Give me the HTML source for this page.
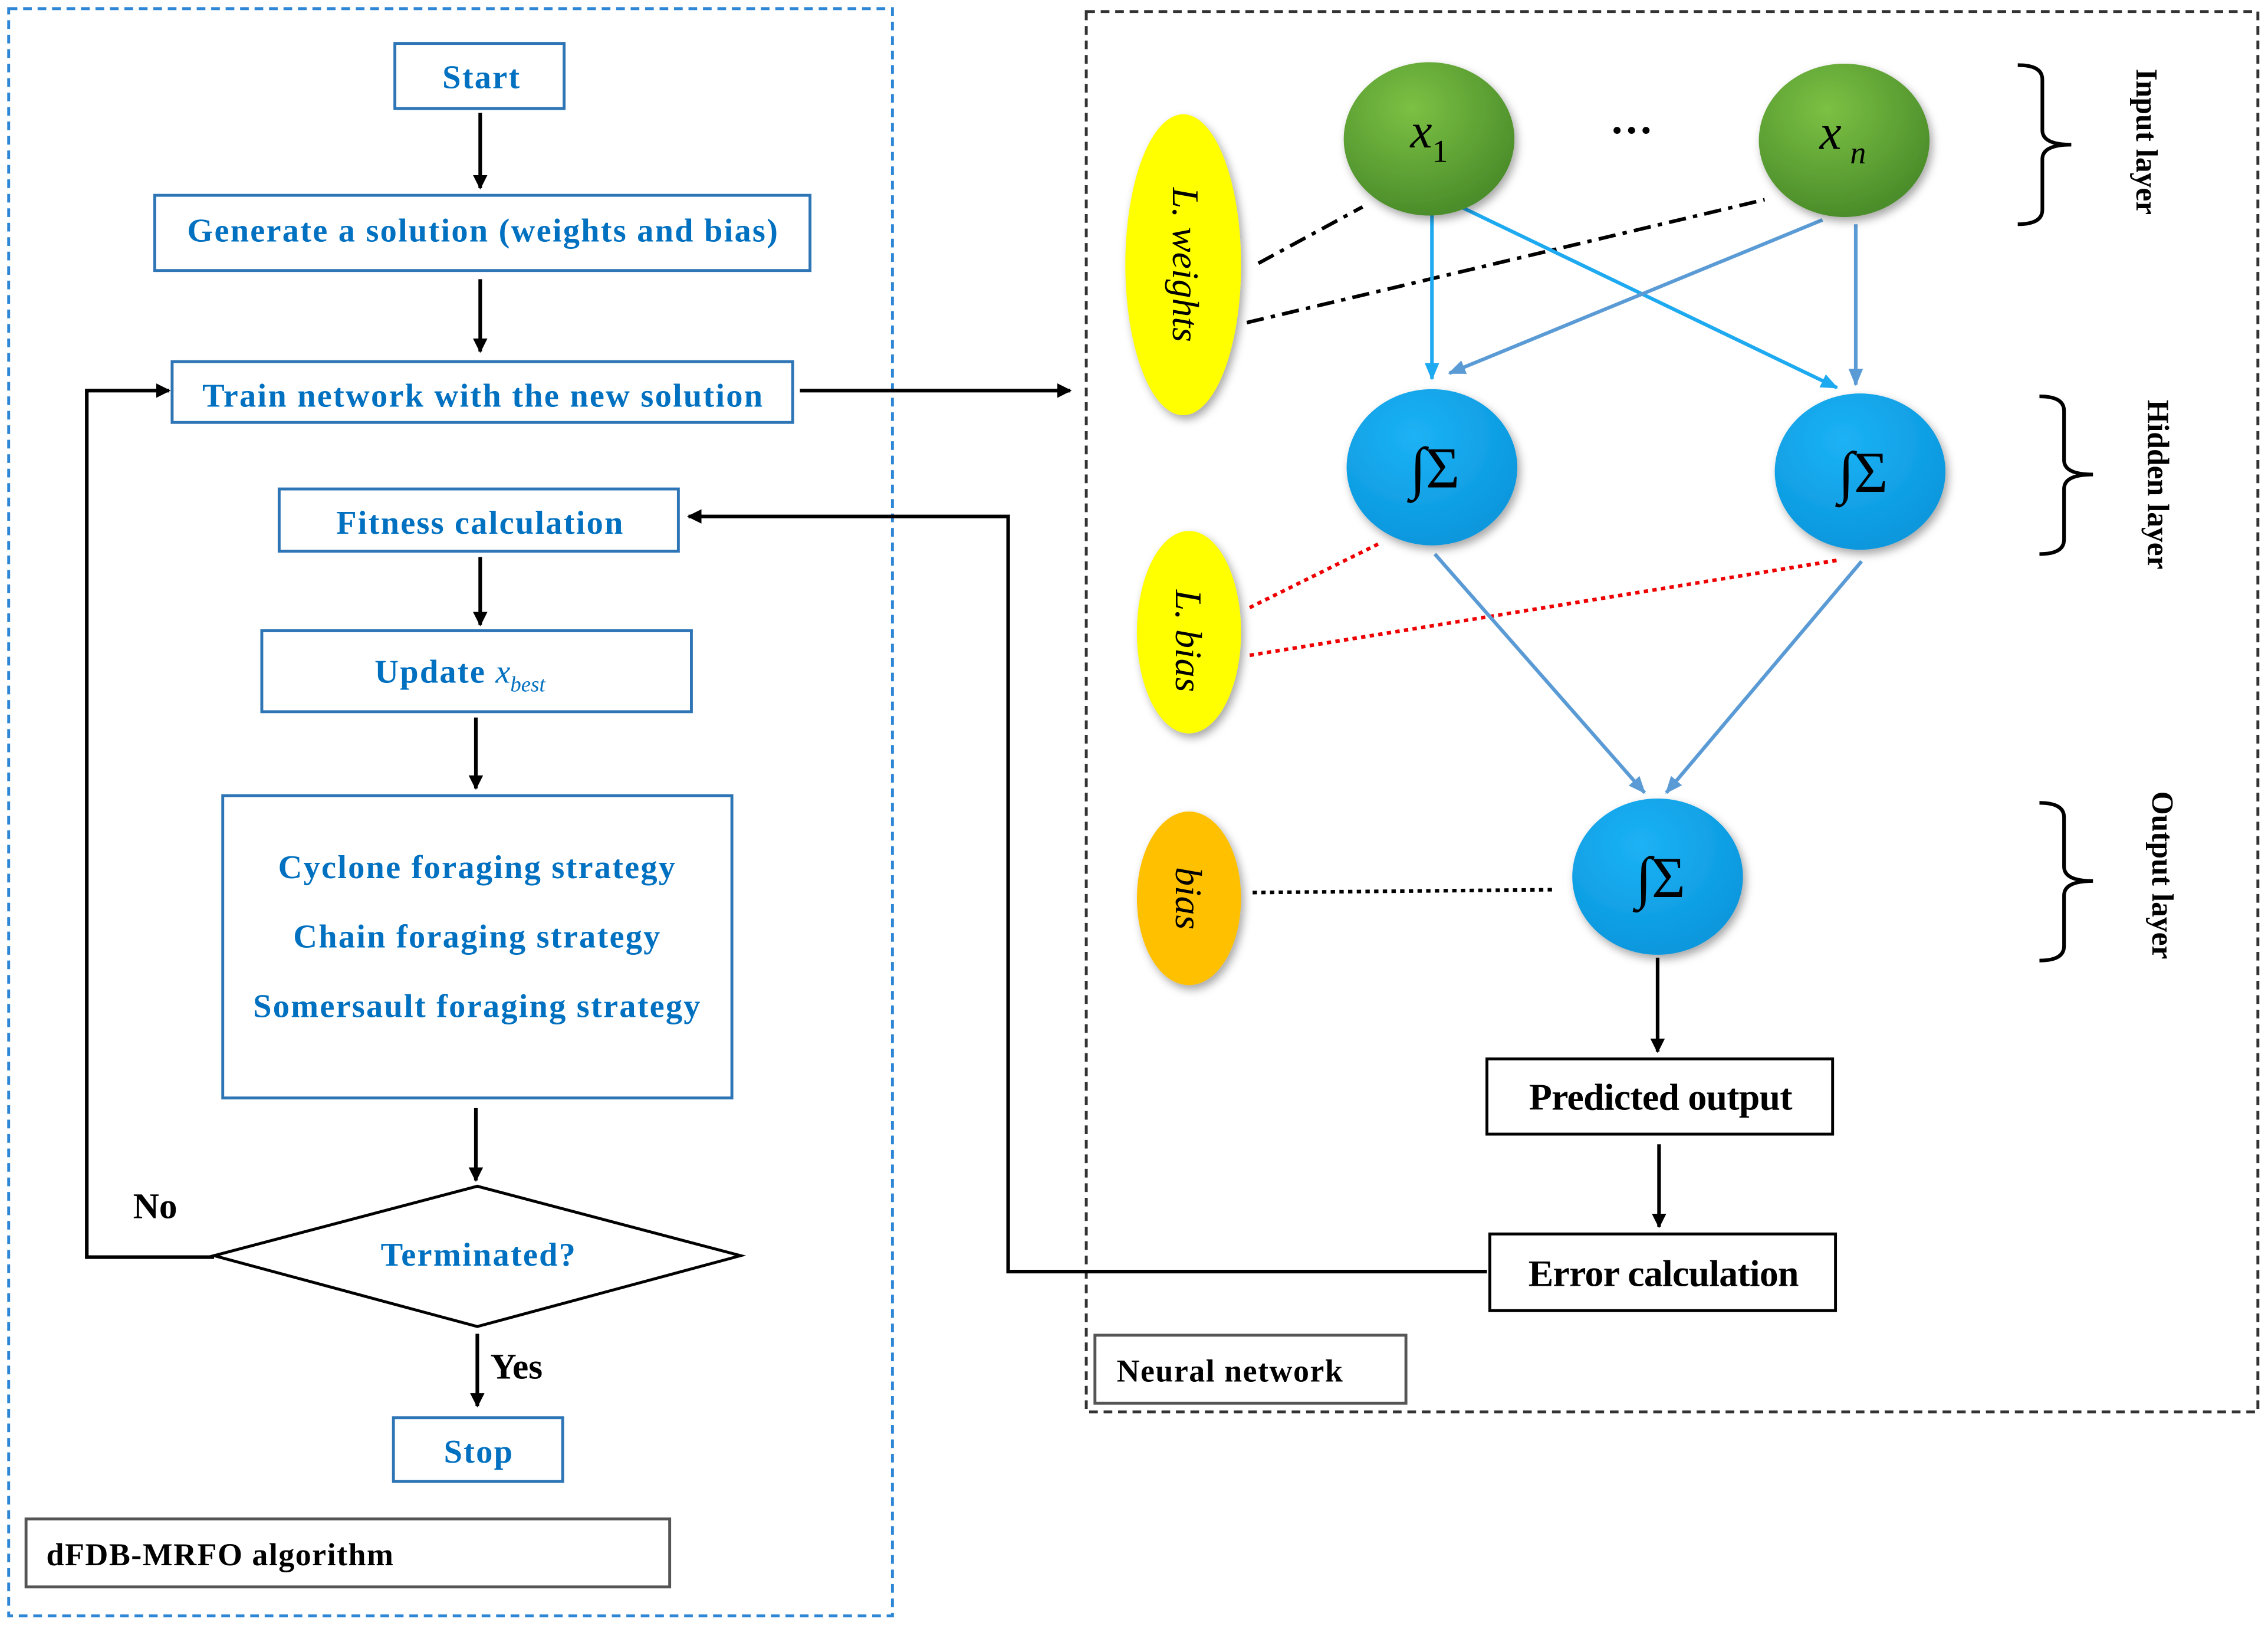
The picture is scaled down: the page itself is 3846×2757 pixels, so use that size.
<!DOCTYPE html>
<html><head><style>html,body{margin:0;padding:0;background:#fff}svg{display:block}</style></head>
<body>
<svg width="3846" height="2757" viewBox="0 0 1568 1124" xmlns="http://www.w3.org/2000/svg" font-family="Liberation Serif, serif">
<defs>
<marker id="ab" markerWidth="10" markerHeight="10" refX="9" refY="5" orient="auto" markerUnits="userSpaceOnUse"><path d="M0,0 L10,5 L0,10 z" fill="#000"/></marker>
<marker id="ac" markerWidth="12" markerHeight="10" refX="11" refY="5" orient="auto" markerUnits="userSpaceOnUse"><path d="M0,0 L12,5 L0,10 z" fill="#1eaaf0"/></marker>
<marker id="ad" markerWidth="12" markerHeight="10" refX="11" refY="5" orient="auto" markerUnits="userSpaceOnUse"><path d="M0,0 L12,5 L0,10 z" fill="#5b9bd5"/></marker>
<radialGradient id="gg" cx="40%" cy="30%" r="70%"><stop offset="0" stop-color="#7cc144"/><stop offset="1" stop-color="#4b8d2a"/></radialGradient>
<radialGradient id="gb" cx="40%" cy="30%" r="70%"><stop offset="0" stop-color="#1cb2f5"/><stop offset="1" stop-color="#0b97dd"/></radialGradient>
<filter id="sh"><feDropShadow dx="2" dy="3" stdDeviation="3" flood-opacity="0.35"/></filter>
</defs>
<rect x="6" y="6" width="611" height="1111" fill="none" stroke="#2e86d6" stroke-width="2" stroke-dasharray="6,4"/>
<rect x="751" y="8" width="810" height="968" fill="none" stroke="#333" stroke-width="2" stroke-dasharray="6,4"/>
<g fill="#fff" stroke="#2e75b6" stroke-width="2">
<rect x="273" y="30" width="117" height="45"/>
<rect x="107" y="135" width="453" height="52"/>
<rect x="119" y="250" width="429" height="42"/>
<rect x="193" y="338" width="276" height="43"/>
<rect x="181" y="436" width="297" height="56"/>
<rect x="154" y="550" width="352" height="209"/>
<rect x="272" y="980" width="117" height="44"/>
</g>
<polygon points="148,868 330,820 512,868 330,917" fill="#fff" stroke="#000" stroke-width="2"/>
<g fill="#fff" stroke="#000" stroke-width="2">
<rect x="18" y="1050" width="445" height="47" stroke="#555"/>
<rect x="757" y="923" width="215" height="47" stroke="#555"/>
<rect x="1028" y="732" width="239" height="52"/>
<rect x="1030" y="853" width="239" height="53"/>
</g>
<g fill="#0070c0" font-weight="bold" font-size="23" text-anchor="middle" letter-spacing="0.9">
<text x="333" y="61">Start</text>
<text x="334" y="167">Generate a solution (weights and bias)</text>
<text x="334" y="281">Train network with the new solution</text>
<text x="332" y="369">Fitness calculation</text>
<text x="318" y="472">Update <tspan font-style="italic" font-weight="normal" letter-spacing="0">  x</tspan><tspan font-style="italic" font-weight="normal" font-size="15" dy="6" letter-spacing="0">best</tspan></text>
<text x="330" y="607">Cyclone foraging strategy</text>
<text x="330" y="655">Chain foraging strategy</text>
<text x="330" y="703">Somersault foraging strategy</text>
<text x="331" y="875">Terminated?</text>
<text x="331" y="1011">Stop</text>
</g>
<g fill="#000" font-weight="bold">
<text x="92" y="842" font-size="25">No</text>
<text x="339" y="953" font-size="25">Yes</text>
<text x="32" y="1082" font-size="22" letter-spacing="0.6">dFDB-MRFO algorithm</text>
<text x="772" y="955" font-size="22" letter-spacing="0.6">Neural network</text>
<text x="1148" y="767" font-size="26" text-anchor="middle" letter-spacing="-0.3">Predicted output</text>
<text x="1150" y="889" font-size="26" text-anchor="middle" letter-spacing="-0.3">Error calculation</text>
</g>
<g stroke="#000" stroke-width="2.5" fill="none">
<line x1="332" y1="78" x2="332" y2="130" marker-end="url(#ab)"/>
<line x1="332" y1="193" x2="332" y2="243" marker-end="url(#ab)"/>
<line x1="553" y1="270" x2="740" y2="270" marker-end="url(#ab)"/>
<line x1="332" y1="385" x2="332" y2="432" marker-end="url(#ab)"/>
<line x1="329" y1="496" x2="329" y2="545" marker-end="url(#ab)"/>
<line x1="329" y1="766" x2="329" y2="816" marker-end="url(#ab)"/>
<line x1="330" y1="922" x2="330" y2="972" marker-end="url(#ab)"/>
<polyline points="148,869 60,869 60,270 117,270" marker-end="url(#ab)"/>
<polyline points="1028,879 697,879 697,357 476,357" marker-end="url(#ab)"/>
<line x1="1146" y1="662" x2="1146" y2="727" marker-end="url(#ab)"/>
<line x1="1147" y1="791" x2="1147" y2="848" marker-end="url(#ab)"/>
</g>
<g stroke="#000" stroke-width="2.5" fill="none" stroke-dasharray="12,5,3,5">
<line x1="870" y1="182" x2="942" y2="143"/>
<line x1="862" y1="223" x2="1220" y2="138"/>
</g>
<g stroke="#e00" stroke-width="2.5" fill="none" stroke-dasharray="3,3">
<line x1="864" y1="420" x2="955" y2="375"/>
<line x1="864" y1="453" x2="1272" y2="387"/>
</g>
<line x1="866" y1="617" x2="1075" y2="615" stroke="#000" stroke-width="2.5" stroke-dasharray="3,3"/>
<g stroke="#1eaaf0" stroke-width="2.5">
<line x1="990" y1="147" x2="990" y2="262" marker-end="url(#ac)"/>
<line x1="1010" y1="143" x2="1270" y2="268" marker-end="url(#ac)"/>
</g>
<g stroke="#5b9bd5" stroke-width="2.5">
<line x1="1260" y1="152" x2="1002" y2="258" marker-end="url(#ad)"/>
<line x1="1283" y1="155" x2="1283" y2="266" marker-end="url(#ad)"/>
<line x1="992" y1="383" x2="1137" y2="548" marker-end="url(#ad)"/>
<line x1="1287" y1="388" x2="1152" y2="548" marker-end="url(#ad)"/>
</g>
<g filter="url(#sh)">
<ellipse cx="988" cy="96" rx="59" ry="53" fill="url(#gg)"/>
<ellipse cx="1275" cy="97" rx="59" ry="53" fill="url(#gg)"/>
<ellipse cx="990" cy="323" rx="59" ry="54" fill="url(#gb)"/>
<ellipse cx="1286" cy="326" rx="59" ry="54" fill="url(#gb)"/>
<ellipse cx="1146" cy="606" rx="59" ry="54" fill="url(#gb)"/>
<ellipse cx="818" cy="183" rx="40" ry="104" fill="#ffff00"/>
<ellipse cx="822" cy="437" rx="36" ry="70" fill="#ffff00"/>
<ellipse cx="822" cy="621" rx="36" ry="60" fill="#ffc000"/>
</g>
<g font-style="italic" font-size="34" fill="#000">
<text x="975" y="102">x<tspan font-size="22" font-style="normal" dy="10">1</tspan></text>
<text x="1258" y="103">x<tspan font-size="22" dx="6" dy="10">n</tspan></text>
</g>
<text x="1128" y="100" font-size="30" font-weight="bold" text-anchor="middle">···</text>
<g font-size="40" fill="#000" text-anchor="middle">
<text x="992" y="337">∫Σ</text>
<text x="1288" y="340">∫Σ</text>
<text x="1148" y="620">∫Σ</text>
</g>
<g font-style="italic" font-size="26" fill="#000" text-anchor="middle">
<text transform="translate(811,183) rotate(90)">L. weights</text>
<text transform="translate(813,443) rotate(90)">L. bias</text>
<text transform="translate(813,621) rotate(90)">bias</text>
</g>
<g font-weight="bold" font-size="21" fill="#000" text-anchor="middle">
<text transform="translate(1477,98) rotate(90)">Input layer</text>
<text transform="translate(1485,335) rotate(90)">Hidden layer</text>
<text transform="translate(1488,605) rotate(90)">Output layer</text>
</g>
<g stroke="#000" stroke-width="2.5" fill="none">
<path d="M1395,45 Q1412,45 1412,55 L1412,90 Q1412,100 1432,100 Q1412,100 1412,110 L1412,145 Q1412,155 1395,155"/>
<path d="M1410,274 Q1427,274 1427,284 L1427,318 Q1427,328 1447,328 Q1427,328 1427,338 L1427,373 Q1427,383 1410,383"/>
<path d="M1410,555 Q1427,555 1427,565 L1427,599 Q1427,609 1447,609 Q1427,609 1427,619 L1427,654 Q1427,664 1410,664"/>
</g>
</svg>
</body></html>
